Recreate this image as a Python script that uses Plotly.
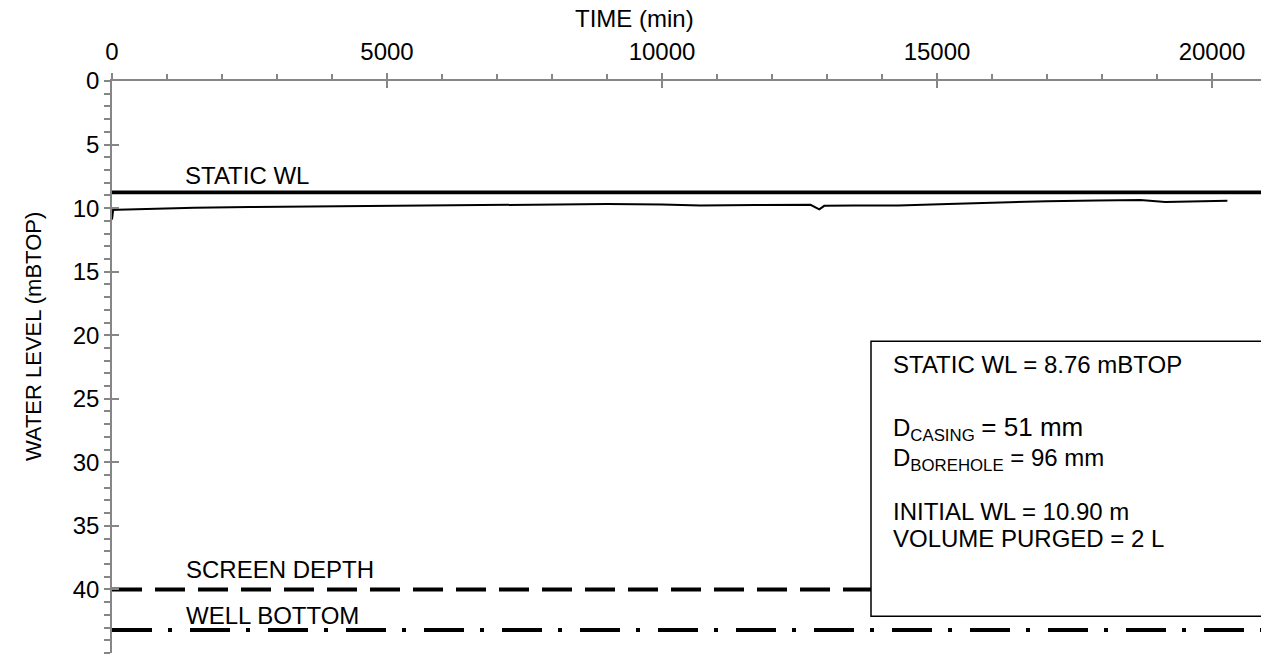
import plotly.graph_objects as go

# ---- data ----
time_min = [0, 20, 100, 600, 1500, 2500, 3400, 4500, 5800, 7000, 8000, 9000,
            10000, 10700, 11700, 12700, 12860, 12950, 13500, 14300, 15200,
            16100, 17000, 17900, 18700, 19150, 19700, 20280]
water_level = [10.90, 10.15, 10.12, 10.05, 9.97, 9.92, 9.88, 9.82, 9.78, 9.75,
               9.70, 9.68, 9.72, 9.80, 9.75, 9.74, 10.10, 9.82, 9.80, 9.80,
               9.68, 9.56, 9.46, 9.40, 9.36, 9.52, 9.46, 9.42]

ref_names = ["STATIC WL", "SCREEN DEPTH", "WELL BOTTOM"]
ref_levels = [8.76, 40.0, 43.2]
time_range = [0, 21000]
depth_range = [45, 0]

FONT = "Liberation Sans, Arial, sans-serif"
AXIS_GREY = "#868686"
FS = 24

fig = go.Figure()

# reference lines
ref_styles = [dict(width=3.6, dash="solid"),
              dict(width=4, dash="30px,13px"),
              dict(width=4, dash="40px,16px,4px,18px")]
for name, lvl, st in zip(ref_names, ref_levels, ref_styles):
    fig.add_trace(go.Scatter(x=time_range, y=[lvl, lvl], mode="lines",
                             line=dict(color="black", **st), name=name,
                             hoverinfo="skip"))

# measured recovery curve
fig.add_trace(go.Scatter(x=time_min, y=water_level, mode="lines",
                         line=dict(color="black", width=2), name="WL"))

# empty trace for the overlay tick axes (crossing major ticks)
fig.add_trace(go.Scatter(x=[None], y=[None], xaxis="x2", yaxis="y2",
                         showlegend=False, hoverinfo="skip"))

# info box (drawn above traces to hide the dashed line behind it)
fig.add_shape(type="rect", xref="x", yref="y", x0=13800, x1=21000,
              y0=20.48, y1=42.1, line=dict(color="black", width=1.5),
              fillcolor="white", layer="above")

# line labels
label_pos = [(1290, 7.45), (1310, 38.46), (1310, 42.04)]
for name, (lx, ly) in zip(ref_names, label_pos):
    fig.add_annotation(x=lx, y=ly, xref="x", yref="y", text=name,
                       showarrow=False, xanchor="left", yanchor="middle",
                       font=dict(family=FONT, size=FS, color="black"))

box_lines = [
    ("STATIC WL = 8.76 mBTOP", 22.33),
    ("D<sub>CASING</sub> <span style='font-size:26px'>= 51 mm</span>", 27.35),
    ("D<sub>BOREHOLE</sub> = 96 mm", 29.75),
    ("INITIAL WL = 10.90 m", 33.85),
    ("VOLUME PURGED = 2 L", 35.96),
]
for txt, ly in box_lines:
    fig.add_annotation(x=14164, y=ly, xref="x", yref="y", text=txt,
                       showarrow=False, xanchor="left", yanchor="middle",
                       font=dict(family=FONT, size=FS, color="black"))

# axis titles
fig.add_annotation(x=0.4528, y=1.110, xref="paper", yref="paper",
                   xanchor="center", yanchor="middle",
                   text="TIME (min)", showarrow=False,
                   font=dict(family=FONT, size=FS, color="black"))
fig.add_annotation(x=-0.0684, y=0.554, xref="paper", yref="paper",
                   xanchor="center", yanchor="middle",
                   text="WATER LEVEL (mBTOP)", showarrow=False, textangle=-90,
                   font=dict(family=FONT, size=22, color="black"))

# the page body has an 8px margin, so the figure is sized to compensate
fig.update_layout(
    width=1261, height=655,
    margin=dict(l=104, r=2, t=73, b=10),
    paper_bgcolor="white", plot_bgcolor="white",
    showlegend=False,
    font=dict(family=FONT, size=FS, color="black"),
    xaxis=dict(range=time_range, side="top", anchor="y", dtick=5000,
               tickformat="d", ticklabelstandoff=4,
               showgrid=False, zeroline=False, showline=True,
               linecolor=AXIS_GREY, linewidth=1.5,
               ticks="outside", ticklen=6, tickcolor=AXIS_GREY, tickwidth=1.5,
               minor=dict(dtick=1000, ticks="outside", ticklen=5,
                          tickcolor=AXIS_GREY, tickwidth=1.5),
               tickfont=dict(family=FONT, size=FS, color="black")),
    yaxis=dict(range=depth_range, anchor="x", dtick=5,
               showgrid=False, zeroline=False, showline=True,
               linecolor=AXIS_GREY, linewidth=1.5,
               ticks="outside", ticklen=6, tickcolor=AXIS_GREY, tickwidth=1.5,
               minor=dict(dtick=1, ticks="outside", ticklen=6,
                          tickcolor=AXIS_GREY, tickwidth=1.5),
               tickfont=dict(family=FONT, size=FS, color="black")),
    xaxis2=dict(range=time_range, overlaying="x", side="top", anchor="y2",
                dtick=5000, showgrid=False, zeroline=False, showline=False,
                ticks="inside", ticklen=7, tickcolor=AXIS_GREY, tickwidth=1.5,
                showticklabels=False),
    yaxis2=dict(range=depth_range, overlaying="y", side="left", anchor="x2",
                dtick=5, showgrid=False, zeroline=False, showline=False,
                ticks="inside", ticklen=7, tickcolor=AXIS_GREY, tickwidth=1.5,
                showticklabels=False),
)

fig.write_html("out.html")
